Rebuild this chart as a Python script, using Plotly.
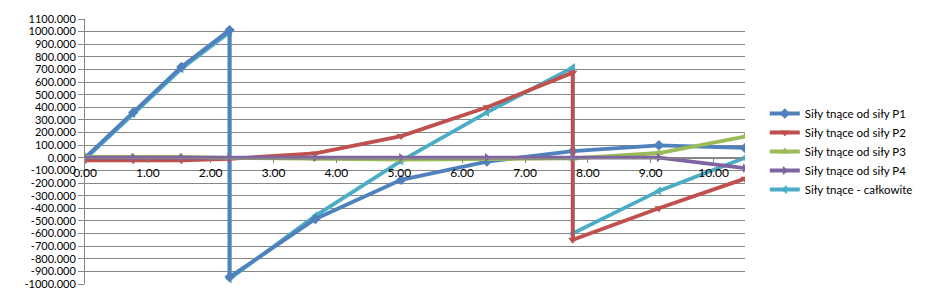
import plotly.graph_objects as go

# ---- data ----
x_p1 = [0.0, 0.767, 1.533, 2.3, 2.3, 3.665, 5.03, 6.395, 7.76, 9.13, 10.5]
y_p1 = [0, 360, 720, 1012, -945, -485, -175, -30, 53, 99, 78]

x_p2 = [0.0, 0.767, 1.533, 2.3, 3.665, 5.03, 6.395, 7.76, 7.76, 9.13, 10.5]
y_p2 = [-20, -20, -20, -8, 35, 172, 400, 675, -650, -400, -165]

x_p3 = [0.0, 0.767, 1.533, 2.3, 3.665, 5.03, 6.395, 7.76, 9.13, 10.5]
y_p3 = [8, 8, 8, 0, -5, -15, -10, -5, 38, 168]

x_p4 = [0.0, 0.767, 1.533, 2.3, 3.665, 5.03, 6.395, 7.76, 9.13, 10.5]
y_p4 = [2, 2, 2, 2, 2, 2, 2, 2, 2, -82]

x_tot = [0.0, 0.767, 1.533, 2.3, 2.3, 3.665, 5.03, 6.395, 7.76, 7.76, 9.13, 10.5]
y_tot = [-10, 350, 705, 995, -960, -460, -25, 360, 715, -600, -262, 0]

names = ["Siły tnące od siły P1", "Siły tnące od siły P2", "Siły tnące od siły P3",
         "Siły tnące od siły P4", "Siły tnące - całkowite"]
colors = ["#4F81BD", "#C0504D", "#9BBB59", "#8064A2", "#4BACC6"]
symbols = ["diamond", "triangle-down", "triangle-up", "triangle-right", "triangle-left"]

y_tickvals = list(range(-1000, 1101, 100))
y_ticktext = [f"{v:.3f}" for v in y_tickvals]
x_tickvals = list(range(0, 11))
x_ticktext = [f"{v:.2f}" for v in x_tickvals]

series = [(x_p1, y_p1), (x_p2, y_p2), (x_p3, y_p3), (x_p4, y_p4), (x_tot, y_tot)]

fig = go.Figure()
# draw the total first (underneath), keep legend order via legendrank
order = [4, 0, 1, 2, 3]
for i in order:
    xs, ys = series[i]
    fig.add_trace(go.Scatter(
        x=xs, y=ys, name=names[i], mode="lines+markers", legendrank=i + 1,
        line=dict(color=colors[i], width=3.8),
        marker=dict(symbol=symbols[i], size=8, color=colors[i]),
    ))

grid = "#868686"
fig.update_layout(
    width=930, height=302,
    margin=dict(l=85, r=178, t=13, b=14),
    plot_bgcolor="white", paper_bgcolor="white",
    font=dict(family="Lato, Carlito, sans-serif", size=11.5, color="black"),
    showlegend=True,
    legend=dict(x=1.03, y=0.5, xanchor="left", yanchor="middle",
                font=dict(size=11.5), itemwidth=30, tracegroupgap=0,
                bgcolor="rgba(0,0,0,0)", traceorder="normal"),
    xaxis=dict(range=[0, 10.5], tickvals=x_tickvals, ticktext=x_ticktext,
               showgrid=False, zeroline=False, showline=True, linecolor=grid,
               linewidth=1, ticks="outside", ticklen=4, tickcolor=grid,
               anchor="free", position=1000 / 2100, tickfont=dict(size=12)),
    yaxis=dict(range=[-1000, 1100], tickvals=y_tickvals, ticktext=y_ticktext,
               showgrid=True, gridcolor=grid, gridwidth=1, zeroline=False,
               showline=True, linecolor=grid, linewidth=1, ticks="outside",
               ticklen=6, tickcolor=grid, tickfont=dict(size=11)),
)

fig.write_html("out.html")
